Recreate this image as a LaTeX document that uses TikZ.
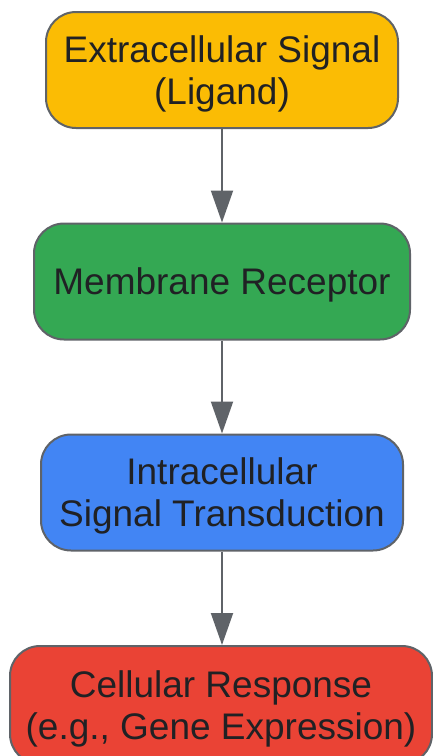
\documentclass[tikz,border=0pt]{standalone}
\usepackage{fontspec}
\setmainfont{Liberation Sans}
\usetikzlibrary{arrows.meta, positioning}

\definecolor{sigyellow}{HTML}{FBBC04}
\definecolor{sidegreen}{HTML}{34A853}
\definecolor{sigblue}{HTML}{4285F4}
\definecolor{sigred}{HTML}{EA4335}
\definecolor{edgegray}{HTML}{5F6368}
\definecolor{textgray}{HTML}{202124}

\tikzset{
    stagebox/.style={draw=edgegray, line width=2pt, rounded corners=30pt,
        minimum height=116pt, inner sep=0pt, align=center, text=textgray,
        text depth=0pt, font=\fontsize{37}{42}\selectfont},
    flow/.style={draw=edgegray, line width=2pt,
        -{Triangle[length=32pt, width=22pt]}}
}

\begin{document}
\begin{tikzpicture}
    \useasboundingbox (0,0) rectangle (433pt,-756pt);
    \clip (0,0) rectangle (433pt,-756pt);
    % stages
    \node[stagebox, fill=sigyellow, minimum width=352pt] (ligand) at (222pt,-70pt) {Extracellular Signal\\(Ligand)};
    \node[stagebox, fill=sidegreen, minimum width=376pt] (receptor) at (222pt,-281.5pt) {Membrane Receptor};
    \node[stagebox, fill=sigblue, minimum width=362pt] (transduction) at (222pt,-492.5pt) {Intracellular\\Signal Transduction};
    \node[stagebox, fill=sigred, minimum width=422pt, minimum height=118pt] (response) at (221pt,-705pt) {Cellular Response\\(e.g., Gene Expression)};
    % arrows
    \draw[flow] (ligand) -- (receptor);
    \draw[flow] (receptor) -- (transduction);
    \draw[flow] (transduction) -- (transduction |- response.north);
\end{tikzpicture}
\end{document}
